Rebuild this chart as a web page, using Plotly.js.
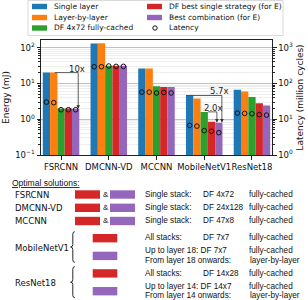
<!DOCTYPE html>
<html><head><meta charset="utf-8">
<script src="https://cdn.plot.ly/plotly-3.0.1.min.js"></script>
<style>html,body{margin:0;padding:0;background:#fff}#chart{width:308px;height:300px}</style>
</head><body><div id="chart"></div>
<script>
// ---------- data ----------
const categories = ['FSRCNN', 'DMCNN-VD', 'MCCNN', 'MobileNetV1', 'ResNet18'];
const seriesNames = ['Single layer', 'Layer-by-layer', 'DF 4x72 fully-cached', 'DF best single strategy (for E)', 'Best combination (for E)'];
const latencyName = 'Latency';
const energySingle = [20, 131, 26, 4.6, 6.6];
const energyLayer = [20, 132, 26, 3.8, 5.9];
const energyDF472 = [2.0, 31, 8.3, 1.6, 4.2];
const energyBestSingle = [2.0, 31, 7.9, 0.85, 2.8];
const energyBestComb = [1.95, 31, 7.9, 0.80, 2.4];
const latencySingle = [30, 292, 57, 6.7, 14.8];
const latencyLayer = [29, 292, 57, 6.4, 14.5];
const latencyDF472 = [18.4, 306, 54, 4.8, 14.2];
const latencyBestSingle = [18.4, 299, 56, 4.6, 13.4];
const latencyBestComb = [18.4, 299, 54, 4.2, 13.0];
const energyTickVals = [0.1, 1, 10, 100];
const energyTickText = ['10<sup>−1</sup>', '10<sup>0</sup>', '10<sup>1</sup>', '10<sup>2</sup>'];
const latencyTickVals = [1, 10, 100, 1000];
const latencyTickText = ['10<sup>0</sup>', '10<sup>1</sup>', '10<sup>2</sup>', '10<sup>3</sup>'];
const ratioLabels = ['10x', '5.7x', '2.0x'];
// optimal-solutions table
const tableTitle = 'Optimal solutions:';
const stackNames = ['FSRCNN', 'DMCNN-VD', 'MCCNN'];
const stackDF = ['DF 4x72', 'DF 24x128', 'DF 47x8'];
const stackMode = ['fully-cached', 'fully-cached', 'fully-cached'];
const mixNames = ['MobileNetV1', 'ResNet18'];
const mixAllDF = ['DF 7x7', 'DF 14x28'];
const mixUpTo = ['Up to layer 18: DF 7x7', 'Up to layer 14: DF 14x7'];
const mixFrom = ['From layer 18 onwards:', 'From layer 14 onwards:'];

// ---------- style ----------
const colors = ['#1f77b4', '#ff7f0e', '#2ca02c', '#d62728', '#9467bd'];
const energy = [energySingle, energyLayer, energyDF472, energyBestSingle, energyBestComb];
const latency = [latencySingle, latencyLayer, latencyDF472, latencyBestSingle, latencyBestComb];
const W = 308, H = 300, ML = 41, MR = 36, MT = 40, MB = 145;
const PW = W - ML - MR, PH = H - MT - MB;
const px = x => (x - ML) / PW;
const py = y => (H - MB - y) / PH;
const BW = 0.153;
const DJ = 'DejaVu Sans', LS = 'Liberation Sans';
const xs = k => categories.map((c, i) => i + (k - 2) * BW);

const traces = [];
energy.forEach((vals, k) => {
  traces.push({type: 'bar', x: xs(k), y: vals, width: BW, name: seriesNames[k],
    marker: {color: colors[k], line: {width: 0}}, yaxis: 'y', hoverinfo: 'y', showlegend: false});
});
latency.forEach((vals, k) => {
  traces.push({type: 'scatter', mode: 'markers', x: xs(k), y: vals, name: latencyName, yaxis: 'y2',
    marker: {symbol: 'circle-open', size: 4.6, color: '#111', line: {width: 1, color: '#111'}},
    showlegend: false, cliponaxis: false});
});

// ratio brackets
const brackets = [
  {cat: 0, from: -0.13, to: 0.36, top: energySingle[0], bottom: energyBestComb[0], label: ratioLabels[0], lx: 0.34},
  {cat: 3, from: -0.383, to: 0.37, top: energySingle[3], bottom: energyBestComb[3], label: ratioLabels[1], lx: 0.33},
  {cat: 3, from: 0.077, to: 0.265, top: energyDF472[3], bottom: energyBestComb[3], label: ratioLabels[2], lx: 0.19}
];
const annotations = [];
const shapes = [];
brackets.forEach(b => {
  traces.push({type: 'scatter', mode: 'lines', x: [b.cat + b.from, b.cat + b.to, b.cat + b.to], y: [b.top, b.top, b.bottom * 1.12],
    line: {color: '#333', width: 0.8}, yaxis: 'y', hoverinfo: 'skip', showlegend: false});
  annotations.push({xref: 'x', yref: 'y', axref: 'x', ayref: 'y', x: b.cat + b.to, y: Math.log10(b.bottom),
    ax: b.cat + b.to, ay: Math.log10(b.bottom * 1.3), text: '', showarrow: true, arrowhead: 2,
    arrowsize: 0.9, arrowwidth: 0.8, arrowcolor: '#333', standoff: 0});
  annotations.push({xref: 'x', yref: 'y', x: b.cat + b.lx, y: Math.log10(b.top), text: b.label, showarrow: false,
    xanchor: 'center', yanchor: 'bottom', yshift: -3, font: {family: DJ, size: 8.5, color: '#222'}});
});

// helpers for paper-pixel drawing
function txt(x, y, t, fam, size, anchor) {
  annotations.push({xref: 'paper', yref: 'paper', x: px(x), y: py(y), text: t, showarrow: false,
    xanchor: anchor || 'left', yanchor: 'middle', borderpad: 0, font: {family: fam, size: size, color: '#111'}});
}
function rect(x0, y0, x1, y1, fill, line) {
  shapes.push({type: 'rect', xref: 'paper', yref: 'paper', x0: px(x0), x1: px(x1), y0: py(y0), y1: py(y1),
    fillcolor: fill, line: {width: line ? 0.8 : 0, color: line || fill}, layer: 'above'});
}
function brace(top, bot, xr, xs_, xt) {
  const mid = (top + bot) / 2;
  const P = (x, y) => px(x) + ',' + py(y);
  const d = 'M' + P(xr, top) + ' Q' + P(xs_, top) + ' ' + P(xs_, top + 2.5) +
    ' L' + P(xs_, mid - 2.5) + ' Q' + P(xs_, mid) + ' ' + P(xt, mid) +
    ' Q' + P(xs_, mid) + ' ' + P(xs_, mid + 2.5) + ' L' + P(xs_, bot - 2.5) +
    ' Q' + P(xs_, bot) + ' ' + P(xr, bot);
  shapes.push({type: 'path', xref: 'paper', yref: 'paper', path: d, line: {color: '#111', width: 0.9}, layer: 'above'});
}

// manual legend
rect(28, 0.5, 283, 35.5, '#ffffff', '#cfcfcf');
const legRows = [6.5, 17.5, 28];
const legItems = [
  {col: 0, row: 0, k: 0}, {col: 0, row: 1, k: 1}, {col: 0, row: 2, k: 2},
  {col: 1, row: 0, k: 3}, {col: 1, row: 1, k: 4}
];
const colSw = [32, 147], colTx = [52.5, 167.5];
legItems.forEach(it => {
  const y = legRows[it.row];
  rect(colSw[it.col], y - 2.7, colSw[it.col] + 15, y + 2.7, colors[it.k]);
  txt(colTx[it.col], y, seriesNames[it.k], DJ, 7.5);
});
shapes.push({type: 'circle', xref: 'paper', yref: 'paper', x0: px(152.8), x1: px(157.2), y0: py(legRows[2] - 2.2), y1: py(legRows[2] + 2.2),
  line: {color: '#111', width: 1}, layer: 'above'});
txt(colTx[1], legRows[2], latencyName, DJ, 7.5);

// table
const TF = 8.2;
txt(11, 182.5, '<u>' + tableTitle + '</u>', LS, 8.5);
const rowY = [194.5, 207.8, 221];
stackNames.forEach((n, i) => {
  const y = rowY[i];
  txt(13.5, y, n, DJ, 8.5);
  rect(75, y - 4.2, 100, y + 4.2, colors[3]);
  txt(101.5, y - 0.5, '&', LS, 8);
  rect(110, y - 4.2, 135, y + 4.2, colors[4]);
  txt(143.5, y - 0.5, 'Single stack:', LS, TF);
  txt(202, y - 0.5, stackDF[i], LS, TF);
  txt(248, y - 0.5, stackMode[i], LS, TF);
});
const mixTop = [231.7, 266.7], mixBot = [262.3, 297.7];
const mixRed = [238.2, 273.4], mixPur = [255.9, 291.2];
const mixLine1 = [237.3, 273.0], mixLine2 = [250.5, 286.4], mixLine3 = [260.0, 295.4];
mixNames.forEach((n, i) => {
  txt(13.5, (mixTop[i] + mixBot[i]) / 2 + 1, n, DJ, 8.5);
  brace(mixTop[i], mixBot[i], 74.8, 72.8, 70.6);
  rect(92.7, mixRed[i] - 4.2, 117.3, mixRed[i] + 4.2, colors[3]);
  rect(92.7, mixPur[i] - 4.2, 117.3, mixPur[i] + 4.2, colors[4]);
  txt(143.5, mixLine1[i], 'All stacks:', LS, TF);
  txt(202, mixLine1[i], mixAllDF[i], LS, TF);
  txt(248, mixLine1[i], 'fully-cached', LS, TF);
  txt(143.5, mixLine2[i], mixUpTo[i], LS, TF);
  txt(248, mixLine2[i], 'fully-cached', LS, TF);
  txt(143.5, mixLine3[i], mixFrom[i], LS, TF);
  txt(248.5, mixLine3[i], 'layer-by-layer', LS, TF);
});

const axisFont = {family: DJ, size: 8.5, color: '#111'};
const layout = {
  width: W, height: H, margin: {l: ML, r: MR, t: MT, b: MB, pad: 0},
  paper_bgcolor: '#fff', plot_bgcolor: '#fff', barmode: 'overlay', showlegend: false,
  xaxis: {range: [-0.42, 4.42], tickmode: 'array', tickvals: categories.map((c, i) => i), ticktext: categories,
    tickangle: 0, showgrid: false, zeroline: false, showline: true, linecolor: '#222', linewidth: 1, mirror: true,
    ticks: 'outside', ticklen: 3.5, tickcolor: '#222', tickfont: axisFont, fixedrange: true},
  yaxis: {type: 'log', range: [-1, 2.212], tickmode: 'array', tickvals: energyTickVals, ticktext: energyTickText,
    showline: true, linecolor: '#222', linewidth: 1, ticks: 'outside', ticklen: 3.5, tickcolor: '#222',
    tickfont: axisFont, showgrid: true, gridcolor: '#b5b5b5', gridwidth: 0.8, zeroline: false,
    minor: {dtick: 'D1', ticks: 'outside', ticklen: 2, tickcolor: '#222', showgrid: true, gridcolor: '#e2e2e2', gridwidth: 0.6},
    title: {text: 'Energy (mJ)', font: {family: DJ, size: 9, color: '#111'}, standoff: 4}},
  yaxis2: {type: 'log', range: [0, 3.212], overlaying: 'y', side: 'right', tickmode: 'array',
    tickvals: latencyTickVals, ticktext: latencyTickText, showline: true, linecolor: '#222', linewidth: 1,
    ticks: 'outside', ticklen: 3.5, tickcolor: '#222', tickfont: axisFont, showgrid: false, zeroline: false,
    minor: {dtick: 'D1', ticks: 'outside', ticklen: 2, tickcolor: '#222', showgrid: false},
    title: {text: 'Latency (million cycles)', font: {family: DJ, size: 9, color: '#111'}, standoff: 4}},
  annotations: annotations, shapes: shapes
};
Plotly.newPlot('chart', traces, layout, {staticPlot: true, displayModeBar: false});
</script></body></html>
